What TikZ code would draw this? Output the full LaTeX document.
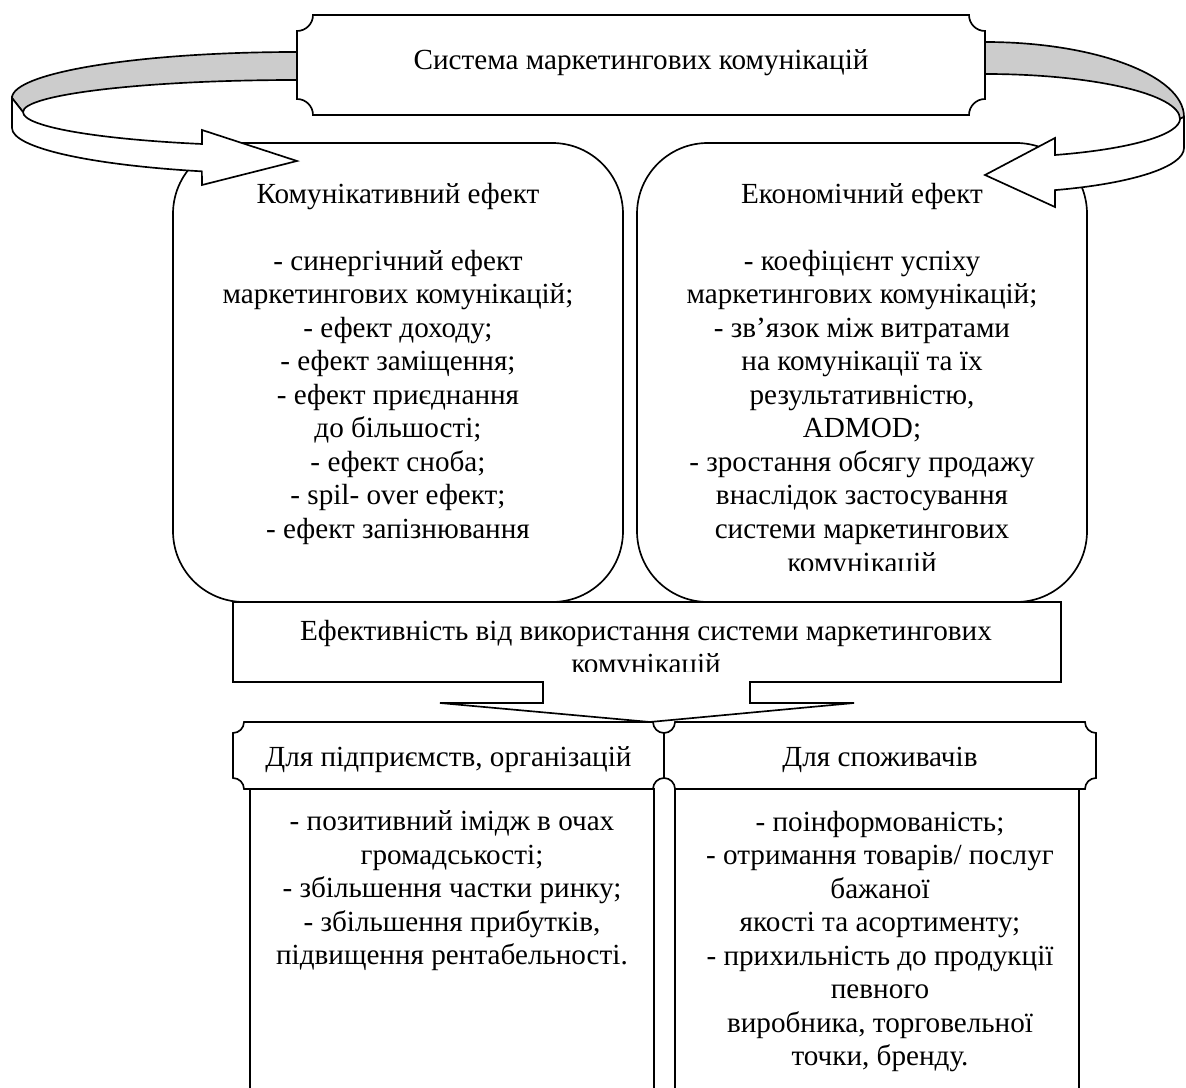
\documentclass[tikz,border=0pt]{standalone}
\usepackage{fontspec}
\setmainfont{Liberation Serif}
\usepackage{tikz}

\begin{document}
\begin{tikzpicture}[x=0.48pt, y=-0.48pt, line width=0.8pt,
    texto/.style={align=center, inner sep=0pt, font=\fontsize{14pt}{16.1pt}\selectfont},
    caja/.style={draw, fill=white, line join=miter},
    cinta/.style={draw, fill=black!20},
    flecha/.style={draw, fill=white, line join=miter}]
    \clip (0,0) rectangle (1186,1088);

    % Bloques de efectos (esquinas redondeadas)
    \draw[caja, rounded corners=34pt] (173,143) rectangle (623,602);
    \draw[caja, rounded corners=34pt] (637,143) rectangle (1087,602);

    % Flecha curva izquierda
    \draw[cinta] (297,52) arc[start angle=270, end angle=180, x radius=285, y radius=46]
        -- (23,112) arc[start angle=180, end angle=270, x radius=274, y radius=32] -- cycle;
    \draw[flecha] (12,98) -- (12,128) arc[start angle=180, end angle=109.5, x radius=285, y radius=46]
        -- (202,185) -- (297,161) -- (202,130) -- (202,144)
        arc[start angle=110.3, end angle=180, x radius=274, y radius=34] -- cycle;

    % Flecha curva derecha
    \draw[cinta] (985,42) arc[start angle=270, end angle=360, x radius=199, y radius=75]
        -- (1180,119) arc[start angle=0, end angle=-90, x radius=195, y radius=45] -- cycle;
    \draw[flecha] (1184,117) -- (1184,148) arc[start angle=0, end angle=69.4, x radius=199, y radius=45]
        -- (1055,207) -- (985,175) -- (1055,138) -- (1055,155)
        arc[start angle=69, end angle=0, x radius=195, y radius=39] -- cycle;

    % Bloque superior
    \draw[caja] (313,15) -- (969,15) arc[start angle=180, end angle=90, radius=16]
        -- (985,99) arc[start angle=270, end angle=180, radius=16]
        -- (313,115) arc[start angle=0, end angle=-90, radius=16]
        -- (297,31) arc[start angle=90, end angle=0, radius=16] -- cycle;

    % Bloque de eficiencia con flecha hacia abajo
    \draw[caja] (233,602) -- (1061,602) -- (1061,682) -- (750,682) -- (750,703) -- (854,703)
        -- (650,722) -- (440,703) -- (543,703) -- (543,682) -- (233,682) -- cycle;

    % Bloques inferiores
    \draw[caja] (250,789) rectangle (654,1100);
    \draw[caja] (675,789) rectangle (1079,1100);

    % Encabezados inferiores
    \draw[caja] (244,722) -- (653,722) arc[start angle=180, end angle=90, radius=11]
        -- (664,778) arc[start angle=270, end angle=180, radius=11]
        -- (244,789) arc[start angle=0, end angle=-90, radius=11]
        -- (233,733) arc[start angle=90, end angle=0, radius=11] -- cycle;
    \draw[caja] (675,722) -- (1085,722) arc[start angle=180, end angle=90, radius=11]
        -- (1096,778) arc[start angle=270, end angle=180, radius=11]
        -- (675,789) arc[start angle=0, end angle=-90, radius=11]
        -- (664,733) arc[start angle=90, end angle=0, radius=11] -- cycle;

    % Textos
    \node[texto, anchor=base] (sistema) at (641,69.5) {Система маркетингових комунікацій};

    \node[texto, anchor=north] (komunik) at (398,182) {Комунікативний ефект\\[16.1pt]- синергічний ефект\\маркетингових комунікацій;\\- ефект доходу;\\- ефект заміщення;\\- ефект приєднання\\до більшості;\\- ефект сноба;\\- spil- over ефект;\\- ефект запізнювання};

    \begin{scope}
        \clip (637,143) rectangle (1087,571);
        \node[texto, anchor=north] (ekonom) at (862,182) {Економічний ефект\\[16.1pt]- коефіцієнт успіху\\маркетингових комунікацій;\\- зв’язок між витратами\\на комунікації та їх\\результативністю,\\ADMOD;\\- зростання обсягу продажу\\внаслідок застосування\\системи маркетингових\\комунікацій};
    \end{scope}

    \begin{scope}
        \clip (233,602) rectangle (1061,672);
        \node[texto, anchor=north] (efekt) at (646,619) {Ефективність від використання системи маркетингових\\комунікацій};
    \end{scope}

    \node[texto, anchor=base] (pidpr) at (448.5,766.5) {Для підприємств, організацій};
    \node[texto, anchor=base] (spozh) at (880,766.5) {Для споживачів};

    \node[texto, anchor=north] (pidprList) at (452,810) {- позитивний імідж в очах\\громадськості;\\- збільшення частки ринку;\\- збільшення прибутків,\\підвищення рентабельності.};
    \node[texto, anchor=north] (spozhList) at (880,810) {- поінформованість;\\- отримання товарів/ послуг\\бажаної\\якості та асортименту;\\- прихильність до продукції\\певного\\виробника, торговельної\\точки, бренду.};

\end{tikzpicture}
\end{document}
